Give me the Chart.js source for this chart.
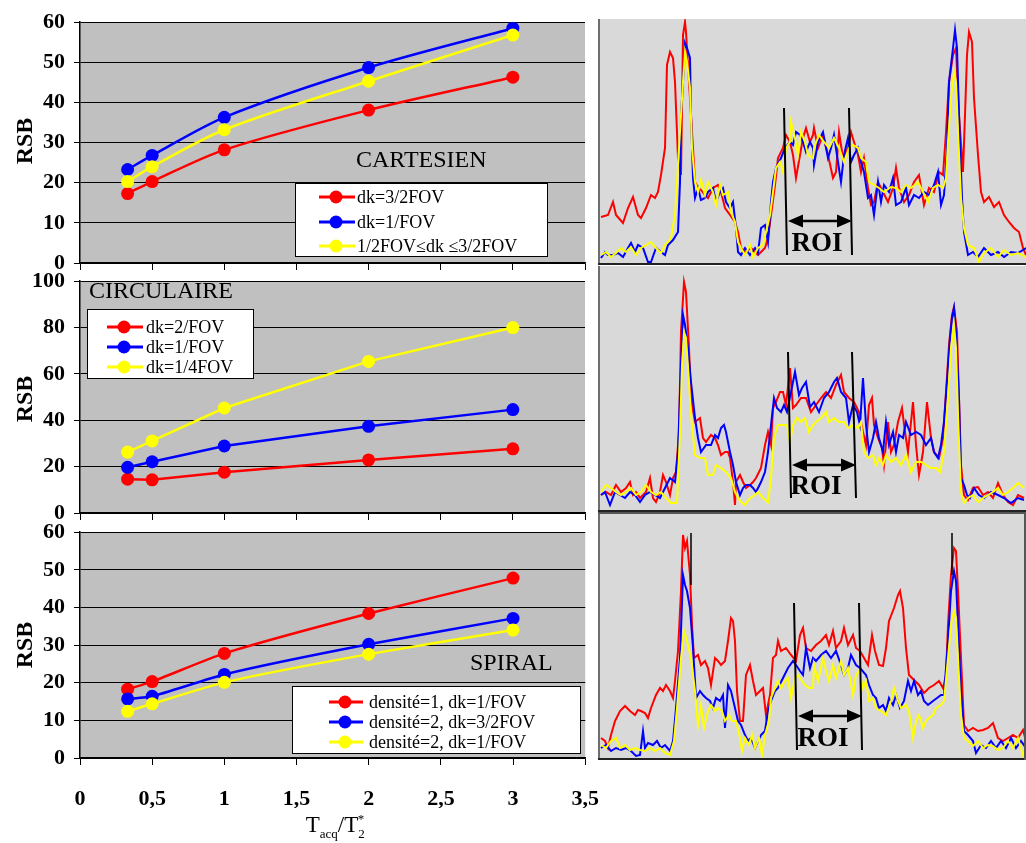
<!DOCTYPE html>
<html>
<head>
<meta charset="utf-8">
<script src="https://cdn.jsdelivr.net/npm/chart.js@4.4.1/dist/chart.umd.min.js"></script>
<style>
  body { margin: 0; background: #fff; width: 1026px; height: 843px; position: relative; overflow: hidden; font-family: 'Liberation Serif', 'Times New Roman', serif; }
  canvas { position: absolute; }
  .txt { position: absolute; color: #000; white-space: nowrap; line-height: 1; }
  .rsb { font-size: 24px; font-weight: bold; transform: translate(-50%, -50%) rotate(-90deg); }
  .title { font-size: 24px; transform: translateY(-50%); }
  .legend { position: absolute; background: #fff; border: 1px solid #000; box-sizing: border-box; }
  .legend span { position: absolute; }
  .legend .ln { height: 3px; transform: translateY(-50%); }
  .legend .dot { width: 13px; height: 13px; border-radius: 50%; transform: translate(-50%, -50%); }
  .legend .tx { font-size: 18px; line-height: 1; transform: translateY(-50%); white-space: nowrap; }
  .xtitle { font-size: 23px; transform: translate(-50%, -50%); }
  .xtitle sub { font-size: 13px; vertical-align: -6px; }
  .xtitle sup { font-size: 13px; vertical-align: 9px; margin-left: -7px; }
</style>
</head>
<body>
<canvas id="cart" width="600" height="288" style="left:0;top:0"></canvas>
<canvas id="circ" width="600" height="279" style="left:0;top:259px"></canvas>
<canvas id="spir" width="620" height="333" style="left:0;top:510px"></canvas>
<canvas id="prof1" width="428" height="251" style="left:598px;top:17px"></canvas>
<canvas id="prof2" width="428" height="251" style="left:598px;top:264px"></canvas>
<canvas id="prof3" width="430" height="253" style="left:596px;top:509px"></canvas>

<div class="txt rsb" style="left:24px;top:141px">RSB</div>
<div class="txt rsb" style="left:24px;top:399px">RSB</div>
<div class="txt rsb" style="left:24px;top:645px">RSB</div>
<div class="txt title" style="left:356px;top:159px">CARTESIEN</div>
<div class="txt title" style="left:89px;top:290px">CIRCULAIRE</div>
<div class="txt title" style="left:470px;top:662px">SPIRAL</div>
<div class="txt xtitle" style="left:335px;top:826px">T<sub>acq</sub>/T<sub>2</sub><sup>*</sup></div>

<div id="leg1" class="legend" style="left:295px;top:183px;width:253px;height:74px"></div>
<div id="leg2" class="legend" style="left:87px;top:309px;width:167px;height:70px"></div>
<div id="leg3" class="legend" style="left:292px;top:686px;width:289px;height:68px"></div>

<script>
const SERIF = "'Liberation Serif', 'Times New Roman', serif";
const RED = '#ff0000';
const BLUE = '#0000ff';
const YELLOW = '#ffff00';

// left panels: RSB vs Tacq/T2*
const xRatio = [0.33, 0.5, 1, 2, 3];
const cartRed = [17.3, 20.3, 28.2, 38.1, 46.3];
const cartBlue = [23.3, 26.8, 36.3, 48.7, 58.5];
const cartYellow = [20.3, 24.0, 33.2, 45.3, 56.8];
const circRed = [14.6, 14.3, 17.6, 22.9, 27.7];
const circBlue = [19.7, 22.1, 28.9, 37.4, 44.6];
const circYellow = [26.3, 31.1, 45.3, 65.4, 80.0];
const spirRed = [18.3, 20.3, 27.8, 38.4, 47.8];
const spirBlue = [15.7, 16.4, 22.2, 30.2, 37.1];
const spirYellow = [12.4, 14.4, 20.1, 27.6, 34.0];

const cartLabels = ['dk=3/2FOV', 'dk=1/FOV', '1/2FOV≤dk ≤3/2FOV'];
const circLabels = ['dk=2/FOV', 'dk=1/FOV', 'dk=1/4FOV'];
const spirLabels = ['densité=1, dk=1/FOV', 'densité=2, dk=3/2FOV', 'densité=2, dk=1/FOV'];

// right panels: intensity profiles [position, level]
const p1Red = [[1,46],[8,48],[13,61],[16,48],[23,40],[28,55],[33,66],[38,48],[41,45],[46,55],[51,68],[55,65],[58,71],[61,88],[65,115],[67,198],[70,211],[73,205],[75,181],[78,105],[81,88],[83,228],[85,241],[86,231],[88,198],[91,148],[95,81],[98,75],[101,73],[105,68],[108,65],[113,75],[118,78],[121,71],[125,55],[130,48],[135,41],[138,31],[141,15],[145,11],[151,15],[158,8],[165,15],[168,25],[171,48],[175,78],[178,105],[183,115],[186,128],[190,121],[193,108],[196,85],[200,108],[203,125],[206,135],[210,121],[213,128],[214,135],[218,115],[223,128],[228,108],[233,85],[236,91],[239,131],[243,105],[248,115],[251,131],[254,121],[258,108],[261,91],[264,105],[268,75],[271,58],[274,61],[278,81],[283,71],[288,61],[293,75],[296,95],[299,75],[304,61],[309,68],[314,81],[319,88],[324,58],[329,75],[334,71],[339,91],[343,88],[346,131],[349,181],[353,208],[356,215],[359,148],[363,91],[365,148],[367,208],[369,231],[372,221],[374,165],[378,108],[381,71],[384,61],[389,66],[394,56],[399,61],[404,48],[409,41],[414,35],[419,31],[423,15],[426,8]];
const p1Blue = [[1,5],[5,11],[8,8],[13,8],[18,10],[23,6],[28,15],[31,20],[35,11],[38,18],[43,15],[48,1],[51,1],[56,15],[61,11],[65,8],[68,18],[73,23],[78,31],[80,81],[81,148],[84,198],[85,220],[87,215],[90,205],[91,148],[93,85],[95,65],[98,75],[101,63],[105,65],[108,71],[113,75],[116,61],[120,71],[123,75],[126,61],[130,55],[133,61],[136,35],[138,11],[141,8],[145,15],[150,8],[155,15],[158,10],[161,35],[165,38],[168,21],[171,61],[173,81],[176,95],[181,105],[185,115],[190,121],[193,118],[196,131],[200,128],[203,121],[206,111],[210,121],[213,115],[214,98],[218,121],[223,131],[228,105],[231,115],[234,128],[238,101],[241,81],[244,108],[248,125],[251,101],[254,108],[258,115],[261,101],[264,91],[268,65],[271,68],[274,48],[278,81],[281,61],[284,78],[289,71],[293,85],[296,58],[301,61],[306,75],[309,58],[314,68],[319,65],[324,71],[329,68],[334,78],[338,91],[341,58],[344,68],[347,115],[349,181],[353,215],[355,233],[357,215],[359,148],[362,65],[364,31],[368,8],[373,11],[378,6],[384,15],[391,8],[398,11],[404,6],[411,11],[418,10],[426,15]];
const p1Yellow = [[1,8],[6,11],[11,6],[16,10],[21,15],[26,11],[31,16],[36,8],[41,15],[46,18],[51,21],[56,15],[61,10],[65,18],[68,21],[71,25],[75,48],[78,98],[81,148],[83,181],[85,211],[87,201],[90,175],[92,115],[95,81],[98,71],[101,83],[105,68],[108,81],[113,71],[116,58],[120,78],[123,68],[128,71],[131,51],[135,41],[138,21],[141,15],[145,8],[150,18],[153,6],[158,15],[163,18],[166,31],[170,48],[173,71],[176,95],[180,101],[183,91],[186,115],[190,121],[191,141],[195,125],[198,108],[201,131],[205,121],[208,108],[213,105],[214,115],[219,128],[224,121],[229,115],[234,125],[239,115],[244,101],[249,115],[253,118],[258,115],[261,105],[266,101],[269,81],[274,78],[279,75],[284,71],[291,76],[296,75],[301,71],[306,78],[311,75],[318,81],[323,71],[328,61],[333,75],[338,78],[343,75],[346,85],[348,121],[351,165],[354,191],[356,181],[358,131],[361,65],[364,35],[368,18],[374,15],[379,1],[384,10],[391,15],[398,6],[404,13],[411,8],[418,10],[426,6]];

const p2Red = [[1,15],[6,18],[11,15],[16,25],[21,18],[26,22],[30,28],[33,15],[36,18],[40,12],[43,15],[46,18],[50,32],[53,12],[56,8],[60,18],[63,35],[66,28],[70,15],[73,32],[76,38],[79,78],[81,178],[84,228],[86,218],[89,162],[91,112],[95,88],[100,92],[103,72],[106,68],[111,75],[115,72],[118,65],[121,55],[125,58],[128,58],[130,52],[133,28],[135,5],[136,28],[140,35],[143,28],[146,22],[150,25],[153,28],[156,32],[161,42],[165,65],[168,78],[171,65],[173,102],[176,108],[180,118],[183,118],[186,105],[190,142],[193,102],[196,105],[201,112],[206,112],[211,98],[216,105],[221,112],[226,118],[231,112],[236,125],[241,135],[244,118],[249,112],[254,108],[259,98],[263,78],[266,65],[269,105],[272,112],[274,85],[278,72],[282,62],[284,45],[288,88],[291,58],[294,65],[298,88],[302,102],[305,78],[308,58],[313,108],[316,65],[319,35],[323,58],[327,108],[331,72],[334,58],[339,52],[343,72],[346,118],[349,165],[352,195],[354,203],[357,178],[359,112],[361,45],[364,15],[368,10],[373,22],[378,23],[383,15],[388,18],[393,12],[398,27],[403,15],[408,8],[413,5],[418,15],[424,12]];
const p2Blue = [[1,15],[5,18],[10,5],[15,18],[20,15],[25,12],[30,18],[35,15],[40,8],[45,15],[50,18],[55,15],[60,12],[65,22],[70,32],[75,28],[78,58],[81,145],[83,195],[85,185],[88,162],[91,128],[95,92],[98,72],[101,58],[106,65],[111,65],[115,75],[118,72],[121,82],[124,85],[126,78],[130,58],[133,45],[136,28],[140,15],[143,22],[146,25],[150,25],[153,22],[156,18],[161,28],[165,38],[168,58],[171,85],[174,112],[177,102],[181,98],[184,105],[187,98],[191,118],[195,138],[199,115],[202,122],[206,128],[210,103],[214,108],[219,98],[224,112],[229,118],[234,128],[237,132],[241,118],[246,112],[249,88],[253,105],[257,98],[260,85],[263,132],[266,85],[269,58],[273,72],[276,88],[279,72],[283,58],[286,88],[289,65],[293,78],[296,58],[299,75],[303,72],[306,88],[311,75],[316,78],[321,75],[326,65],[331,72],[334,58],[338,52],[341,65],[344,88],[347,128],[350,172],[352,192],[354,202],[356,178],[359,112],[361,32],[364,25],[367,15],[370,12],[374,22],[379,15],[384,12],[391,18],[398,15],[404,12],[411,7],[418,12],[424,10]];
const p2Yellow = [[1,18],[6,25],[11,22],[16,18],[21,15],[26,18],[31,22],[36,15],[41,18],[46,25],[51,18],[56,15],[61,18],[66,12],[71,7],[77,7],[80,78],[82,145],[84,178],[86,172],[89,128],[91,95],[95,55],[100,52],[105,52],[108,35],[113,35],[116,45],[121,42],[126,38],[131,32],[135,18],[138,12],[141,8],[145,5],[150,12],[155,15],[158,18],[163,12],[168,8],[171,32],[174,72],[178,85],[183,85],[187,85],[190,68],[193,85],[197,92],[201,88],[205,92],[209,78],[213,85],[216,88],[221,92],[226,98],[229,88],[234,92],[239,88],[244,88],[248,82],[253,85],[258,82],[261,88],[264,58],[268,52],[273,55],[276,45],[279,52],[283,45],[286,55],[291,48],[296,52],[301,45],[306,55],[311,38],[316,48],[321,48],[326,45],[331,42],[336,42],[340,38],[344,58],[348,112],[351,162],[354,185],[356,162],[358,95],[361,18],[364,7],[368,12],[373,15],[378,8],[383,12],[388,15],[393,18],[398,22],[403,15],[408,18],[413,22],[418,27],[424,22]];

const p3Red = [[1,20],[5,17],[8,10],[11,23],[15,37],[20,47],[25,52],[30,47],[35,43],[38,48],[41,47],[45,45],[48,40],[51,50],[56,63],[60,70],[63,67],[66,73],[70,67],[73,60],[75,77],[78,107],[81,167],[83,223],[85,210],[87,217],[90,183],[92,133],[94,100],[98,103],[101,93],[105,97],[108,90],[111,73],[115,100],[118,97],[121,93],[125,97],[128,117],[131,140],[133,137],[135,117],[137,67],[140,37],[143,37],[146,83],[150,93],[153,77],[156,63],[160,67],[163,70],[166,43],[170,63],[173,100],[176,103],[178,117],[181,107],[186,110],[191,103],[196,97],[200,123],[203,130],[206,110],[211,107],[216,113],[221,117],[226,123],[229,113],[233,127],[236,110],[241,117],[244,130],[248,113],[253,123],[256,110],[260,107],[264,100],[268,93],[272,123],[275,107],[279,93],[283,92],[286,110],[289,137],[294,150],[298,163],[300,167],[303,150],[306,110],[309,83],[314,78],[319,73],[324,65],[329,70],[334,73],[339,77],[343,70],[346,83],[348,133],[351,183],[354,210],[356,207],[358,167],[361,100],[364,33],[368,27],[373,30],[378,27],[383,28],[388,30],[393,35],[398,20],[403,17],[408,20],[413,23],[418,20],[423,28],[426,17]];
const p3Blue = [[1,10],[6,13],[11,7],[16,10],[21,8],[26,10],[31,7],[36,2],[40,3],[43,27],[45,10],[48,15],[53,13],[57,17],[61,10],[65,13],[70,7],[73,17],[76,50],[80,100],[83,183],[85,173],[87,167],[90,150],[93,110],[96,60],[100,67],[103,63],[106,60],[110,57],[113,50],[116,60],[120,57],[123,63],[125,30],[128,73],[131,67],[135,50],[138,37],[141,33],[145,23],[148,17],[151,20],[155,10],[158,17],[161,23],[165,27],[168,47],[171,57],[175,67],[178,70],[183,80],[188,90],[193,97],[196,93],[200,87],[203,83],[206,110],[210,90],[213,100],[216,97],[221,103],[226,107],[231,100],[236,107],[241,93],[244,83],[248,90],[251,103],[256,93],[260,90],[266,83],[269,73],[273,63],[276,60],[279,50],[283,53],[286,47],[289,60],[293,53],[296,63],[300,50],[304,57],[308,77],[311,67],[314,77],[318,63],[321,67],[324,57],[328,53],[333,57],[337,60],[341,63],[344,63],[348,117],[351,167],[354,187],[356,177],[358,133],[361,67],[364,27],[368,23],[373,17],[376,5],[381,13],[386,10],[391,17],[396,10],[401,17],[406,10],[411,20],[416,10],[421,17],[426,10]];
const p3Yellow = [[1,13],[6,10],[11,17],[16,20],[20,10],[25,13],[30,8],[35,10],[40,8],[45,7],[50,10],[55,7],[60,10],[65,5],[70,3],[74,17],[77,50],[81,100],[84,127],[87,117],[91,100],[95,67],[98,33],[101,53],[104,30],[108,47],[111,53],[115,47],[118,50],[122,47],[125,37],[129,43],[132,37],[136,37],[140,20],[142,7],[145,20],[149,13],[152,23],[155,10],[159,20],[162,3],[165,23],[169,37],[171,60],[175,70],[178,77],[181,70],[185,77],[188,80],[191,60],[195,80],[198,83],[202,77],[205,73],[209,70],[213,70],[214,93],[218,77],[223,100],[226,87],[229,77],[233,93],[236,80],[241,97],[244,83],[248,90],[253,63],[256,83],[259,87],[263,70],[266,77],[269,57],[273,60],[276,50],[281,47],[286,43],[291,57],[294,70],[298,57],[301,50],[306,53],[309,47],[313,20],[316,37],[319,43],[323,30],[326,37],[329,40],[333,43],[336,50],[341,53],[344,57],[348,100],[351,133],[354,147],[356,140],[358,100],[361,43],[364,20],[368,17],[373,12],[378,17],[383,10],[388,13],[393,12],[398,8],[403,10],[408,17],[413,10],[418,20],[423,3],[426,10]];

// ROI marks per profile: two boundary lines [x top, level top, x bottom, level bottom], arrow [x0, x1, level], label [x, level]
const roi1 = { lines: [[184,155,187,8],[249,155,252,8]], arrow: [188,252,42], label: [217,19] };
const roi2 = { lines: [[188,158,191,12],[252,158,256,12]], arrow: [192,256,45], label: [216,23] };
const roi3 = { lines: [[194,155,197,8],[259,155,262,8]], arrow: [198,262,42], label: [223,19] };
const p3PeakTicks = [[91,225,91,173],[352,225,352,183]];

const plotBg = {
  id: 'plotBg',
  beforeDraw(chart, args, opts) {
    const { ctx, chartArea: a } = chart;
    ctx.save();
    ctx.fillStyle = opts.color;
    ctx.fillRect(a.left, a.top, a.width, a.height);
    ctx.restore();
  },
};

function leftChart(id, series, yMax, yStep, showX, tension, padding) {
  const colors = [RED, BLUE, YELLOW];
  return new Chart(document.getElementById(id), {
    type: 'line',
    data: {
      datasets: series.map((values, i) => ({
        data: values.map((y, j) => ({ x: xRatio[j], y })),
        borderColor: colors[i],
        backgroundColor: colors[i],
        borderWidth: 2.5,
        pointRadius: 6.5,
        pointBorderWidth: 0,
        tension,
        order: 3 - i,
      })),
    },
    options: {
      responsive: false,
      animation: false,
      events: [],
      layout: { padding },
      plugins: { legend: { display: false }, tooltip: { enabled: false }, plotBg: { color: '#c0c0c0' } },
      scales: {
        x: {
          type: 'linear',
          min: 0,
          max: 3.5,
          ticks: {
            stepSize: 0.5,
            display: showX,
            color: '#000',
            padding: 21,
            maxRotation: 0,
            font: { family: SERIF, size: 22, weight: 'bold' },
            callback: (v) => String(v).replace('.', ','),
          },
          grid: { drawOnChartArea: false, color: '#000', tickLength: 7 },
          border: { color: '#000', width: 1.5 },
          afterFit: (s) => { s.height = showX ? 50 : 7; },
        },
        y: {
          min: 0,
          max: yMax,
          ticks: { stepSize: yStep, color: '#000', padding: 9, font: { family: SERIF, size: 22, weight: 'bold' } },
          grid: { color: '#000', tickLength: 6, lineWidth: 1 },
          border: { color: '#000', width: 1.5 },
          afterFit: (s) => { s.width = 80; },
        },
      },
    },
    plugins: [plotBg],
  });
}

leftChart('cart', [cartRed, cartBlue, cartYellow], 60, 10, false, 0.3, { top: 19, right: 15, bottom: 18, left: 0 });
leftChart('circ', [circRed, circBlue, circYellow], 100, 20, false, 0, { top: 16, right: 15, bottom: 18, left: 0 });
leftChart('spir', [spirRed, spirBlue, spirYellow], 60, 10, true, 0.2, { top: 19, right: 30, bottom: 35, left: 0 });

function buildLegend(id, labels, geom) {
  const colors = [RED, BLUE, YELLOW];
  document.getElementById(id).innerHTML = labels.map((label, i) => {
    const top = geom.rows[i];
    return `<span class="ln" style="left:${geom.line[0]}px;width:${geom.line[1] - geom.line[0]}px;top:${top}px;background:${colors[i]}"></span>` +
      `<span class="dot" style="left:${geom.dot}px;top:${top}px;background:${colors[i]}"></span>` +
      `<span class="tx" style="left:${geom.text}px;top:${top}px">${label}</span>`;
  }).join('');
}
buildLegend('leg1', cartLabels, { rows: [13, 38, 62], line: [23, 59], dot: 40, text: 61 });
buildLegend('leg2', circLabels, { rows: [17, 37, 57], line: [19, 55], dot: 36, text: 58 });
buildLegend('leg3', spirLabels, { rows: [15, 35, 55], line: [36, 70], dot: 52, text: 76 });

const frame = {
  id: 'frame',
  beforeDraw(chart) {
    const { ctx, chartArea: a } = chart;
    ctx.save();
    ctx.fillStyle = '#d9d9d9';
    ctx.fillRect(a.left, a.top, a.width, a.height);
    ctx.restore();
  },
  afterDraw(chart, args, opts) {
    const { ctx, chartArea: a } = chart;
    ctx.save();
    ctx.lineWidth = 2;
    ctx.strokeStyle = '#6e6e6e';
    ctx.beginPath();
    ctx.moveTo(a.left - 1, a.top - (opts.boxed ? 2 : 0));
    ctx.lineTo(a.left - 1, a.bottom + 2);
    ctx.stroke();
    ctx.strokeStyle = '#222';
    ctx.beginPath();
    ctx.moveTo(a.left - 2, a.bottom + 1);
    ctx.lineTo(a.right + 2, a.bottom + 1);
    ctx.stroke();
    if (opts.boxed) {
      ctx.strokeStyle = '#555';
      ctx.beginPath();
      ctx.moveTo(a.left - 2, a.top - 1);
      ctx.lineTo(a.right + 1, a.top - 1);
      ctx.lineTo(a.right + 1, a.bottom + 2);
      ctx.stroke();
    }
    ctx.restore();
  },
};

const roiMarks = {
  id: 'roiMarks',
  afterDatasetsDraw(chart, args, opts) {
    const { ctx, scales: { x, y } } = chart;
    const [x0, x1, level] = opts.arrow;
    const py = y.getPixelForValue(level);
    const px0 = x.getPixelForValue(x0);
    const px1 = x.getPixelForValue(x1);
    ctx.save();
    ctx.fillStyle = '#000';
    [[px0, 1], [px1, -1]].forEach(([px, dir]) => {
      ctx.beginPath();
      ctx.moveTo(px, py);
      ctx.lineTo(px + dir * 15, py - 6.5);
      ctx.lineTo(px + dir * 15, py + 6.5);
      ctx.closePath();
      ctx.fill();
    });
    ctx.font = `bold 27px ${SERIF}`;
    ctx.textAlign = 'center';
    ctx.textBaseline = 'middle';
    ctx.fillText('ROI', x.getPixelForValue(opts.label[0]), y.getPixelForValue(opts.label[1]));
    ctx.restore();
  },
};

function segment(seg, width) {
  return {
    data: [{ x: seg[0], y: seg[1] }, { x: seg[2], y: seg[3] }],
    borderColor: '#000',
    borderWidth: width,
    pointRadius: 0,
    order: 0,
  };
}

function profileChart(id, red, blue, yellow, roi, extra, xMax, padding, boxed) {
  const series = [[red, RED, 3], [blue, BLUE, 2], [yellow, YELLOW, 1]].map(([pts, color, order]) => ({
    data: pts.map(([x, y]) => ({ x, y })),
    borderColor: color,
    borderWidth: 2,
    pointRadius: 0,
    order,
  }));
  const marks = roi.lines.map((s) => segment(s, 2));
  marks.push(segment([roi.arrow[0] + 8, roi.arrow[2], roi.arrow[1] - 8, roi.arrow[2]], 2.5));
  extra.forEach((s) => marks.push(segment(s, 1.5)));
  return new Chart(document.getElementById(id), {
    type: 'line',
    data: { datasets: series.concat(marks) },
    options: {
      responsive: false,
      animation: false,
      events: [],
      layout: { padding },
      plugins: { legend: { display: false }, tooltip: { enabled: false }, frame: { boxed }, roiMarks: roi },
      scales: {
        x: { type: 'linear', min: 0, max: xMax, display: false },
        y: { min: 0, max: 244, display: false },
      },
    },
    plugins: [frame, roiMarks],
  });
}

profileChart('prof1', p1Red, p1Blue, p1Yellow, roi1, [], 426, { left: 2, top: 2, right: 0, bottom: 5 }, false);
profileChart('prof2', p2Red, p2Blue, p2Yellow, roi2, [], 426, { left: 2, top: 2, right: 0, bottom: 5 }, false);
profileChart('prof3', p3Red, p3Blue, p3Yellow, roi3, p3PeakTicks, 424, { left: 4, top: 5, right: 2, bottom: 4 }, true);
</script>
</body>
</html>
